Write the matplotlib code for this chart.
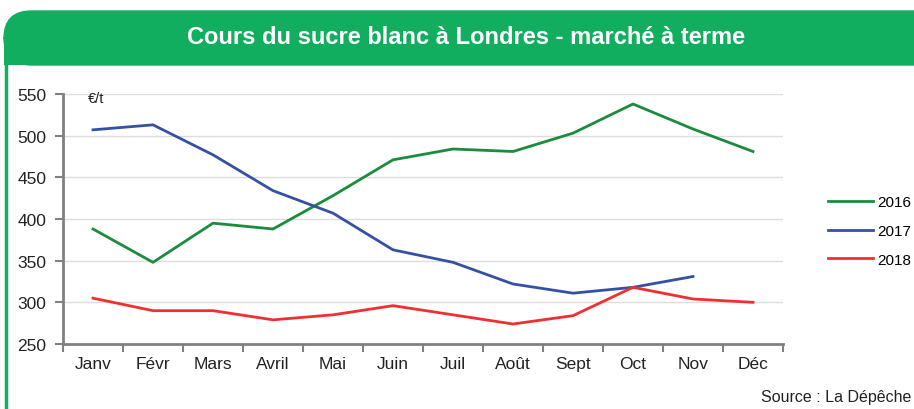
import matplotlib
matplotlib.use("Agg")
import matplotlib.pyplot as plt
from matplotlib.patches import FancyBboxPatch, Rectangle

plt.rcParams['font.family'] = ['Liberation Sans', 'DejaVu Sans']

months = ["Janv", "Févr", "Mars", "Avril", "Mai", "Juin", "Juil", "Août", "Sept", "Oct", "Nov", "Déc"]
v2016 = [388, 348, 395, 388, 428, 471, 484, 481, 503, 538, 508, 481]
v2017 = [507, 513, 477, 434, 407, 363, 348, 322, 311, 318, 331]
v2018 = [305, 290, 290, 279, 285, 296, 285, 274, 284, 318, 304, 300]
yticks = [250, 300, 350, 400, 450, 500, 550]

W, H = 914, 410
fig = plt.figure(figsize=(W/100, H/100), dpi=100)

green = "#12AE60"
# frame
fig.patches.append(Rectangle((5.5/W, -0.05), 1.0, 1 - 40/H + 0.05, transform=fig.transFigure,
                             facecolor="white", edgecolor=green, linewidth=2.5, zorder=-2))
# header
fig.patches.append(FancyBboxPatch((4/W, 1 - 66/H), 1.1, 54/H,
                                  boxstyle="round,pad=0,rounding_size=0.03",
                                  transform=fig.transFigure, facecolor=green, edgecolor=green,
                                  mutation_aspect=W/H, zorder=-1))
fig.patches.append(Rectangle((4/W, 1 - 66/H), 1.1, 25/H, transform=fig.transFigure,
                             facecolor=green, edgecolor="none", zorder=-1))
fig.text(466/W, 1 - 38/H, "Cours du sucre blanc à Londres - marché à terme", color="white",
         fontsize=17, fontweight="bold", ha="center", va="center")

ax = fig.add_axes([63/W, 1 - 345/H, 720/W, 250/H], zorder=2)
ax.patch.set_alpha(0)
x = list(range(len(months)))
l1, = ax.plot(x, v2016, color="#1B8B3C", lw=2, label="2016")
l2, = ax.plot(x[:len(v2017)], v2017, color="#3551A4", lw=2, label="2017")
l3, = ax.plot(x, v2018, color="#F03030", lw=2, label="2018")

ax.set_xlim(-0.5, 11.5)
ax.set_ylim(250, 550)
ax.set_yticks(yticks)
ax.set_xticks(x)
ax.set_xticklabels(months)
ax.set_xticks([i - 0.5 for i in range(13)], minor=True)
ax.tick_params(axis='x', which='major', length=0, pad=9, labelsize=12.5, colors="#222222")
ax.tick_params(axis='x', which='minor', length=6, width=1.5, color="#808080", direction="out")
ax.tick_params(axis='y', length=6, width=1.5, color="#808080", labelsize=12.5, labelcolor="#222222", pad=6)
for s in ["top", "right"]:
    ax.spines[s].set_visible(False)
for s in ["left", "bottom"]:
    ax.spines[s].set_color("#808080")
    ax.spines[s].set_linewidth(2)
ax.grid(axis='y', color="#DDDDDD", lw=1)
ax.set_axisbelow(True)
ax.text(88/W, 1 - 99/H, "€/t", transform=fig.transFigure, fontsize=10.5, va="center", color="#222222")

fig.legend(handles=[l1, l2, l3], loc="center left", bbox_to_anchor=(828/W, 1 - 232/H),
           frameon=False, fontsize=11, handlelength=2.95, labelspacing=0.95, handletextpad=0.3,
           borderpad=0, borderaxespad=0)

fig.text(911/W, 1 - 398/H, "Source : La Dépêche", ha="right", va="center", fontsize=11.5, color="#222222")

fig.savefig("out.png", dpi=100)
